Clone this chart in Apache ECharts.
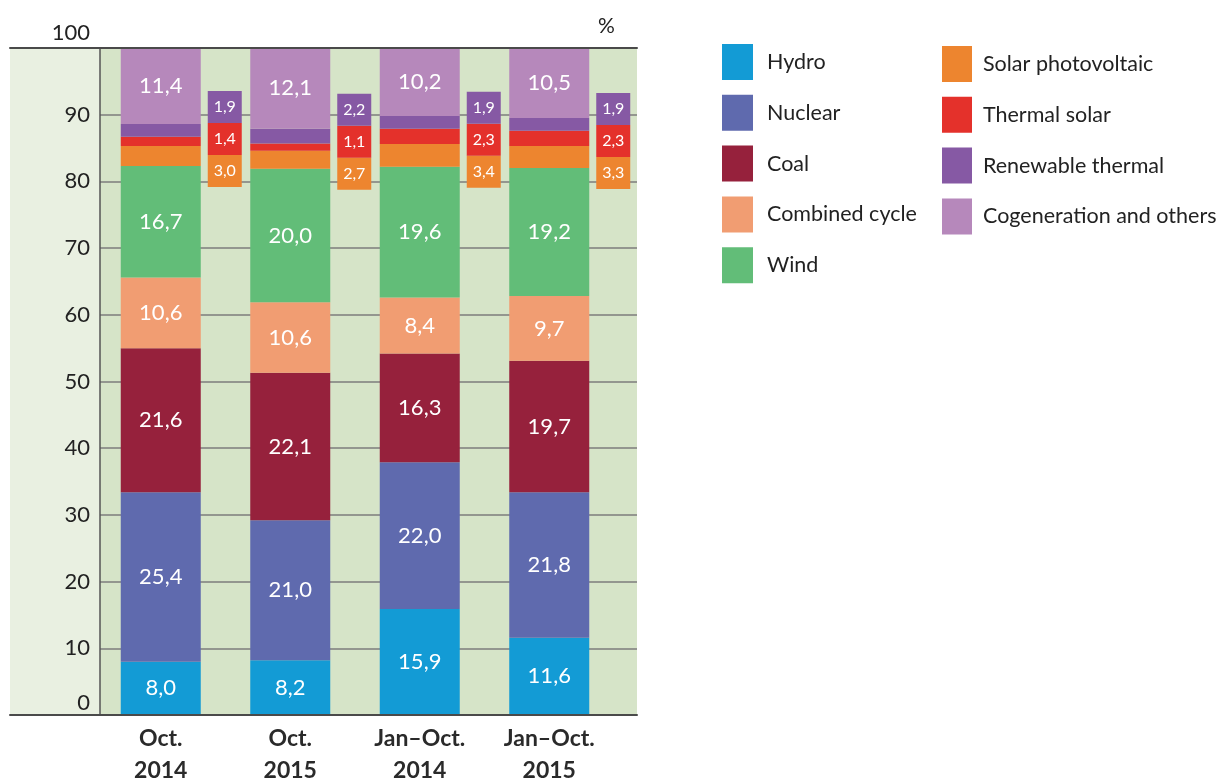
<!DOCTYPE html>
<html>
<head>
<meta charset="utf-8">
<script src="https://cdn.jsdelivr.net/npm/echarts@6/dist/echarts.min.js"></script>
<style>
  html, body { margin: 0; padding: 0; background: #ffffff; }
  #chart { width: 1228px; height: 780px; }
</style>
</head>
<body>
<div id="chart"></div>
<script>
// Electricity generation mix, share of total (%)
const categories = ['Oct.\n2014', 'Oct.\n2015', 'Jan\u2013Oct.\n2014', 'Jan\u2013Oct.\n2015'];

const hydro            = [8.0, 8.2, 15.9, 11.6];
const nuclear          = [25.4, 21.0, 22.0, 21.8];
const coal             = [21.6, 22.1, 16.3, 19.7];
const combinedCycle    = [10.6, 10.6, 8.4, 9.7];
const wind             = [16.7, 20.0, 19.6, 19.2];
const solarPV          = [3.0, 2.7, 3.4, 3.3];
const thermalSolar     = [1.4, 1.1, 2.3, 2.3];
const renewableThermal = [1.9, 2.2, 1.9, 1.9];
const cogeneration     = [11.4, 12.1, 10.2, 10.5];

const seriesNames = ['Hydro', 'Nuclear', 'Coal', 'Combined cycle', 'Wind',
  'Solar photovoltaic', 'Thermal solar', 'Renewable thermal', 'Cogeneration and others'];
const seriesData = [hydro, nuclear, coal, combinedCycle, wind,
  solarPV, thermalSolar, renewableThermal, cogeneration];
const seriesColors = ['#139bd5', '#5f6aae', '#96213c', '#f19d72', '#62bd78',
  '#ed852f', '#e4312b', '#8659a4', '#b688bb'];

const FONT = 'Lato, "Noto Sans", sans-serif';
const fmt = v => v.toFixed(1).replace('.', ',');

// the three small renewables are shown in a callout box stack beside each bar
const CALLOUT = { 'Solar photovoltaic': 0, 'Thermal solar': 1, 'Renewable thermal': 2 };
const CALLOUT_W = 34, CALLOUT_H = 32, CALLOUT_GAP = 7, CALLOUT_DROP = 21;
// top of the wind segment: the callouts hang from here
const baseTop = hydro.map((_, i) => hydro[i] + nuclear[i] + coal[i] + combinedCycle[i] + wind[i]);

const chart = echarts.init(document.getElementById('chart'), null, { renderer: 'canvas' });

function calloutLayout(slot) {
  return function (p) {
    const r = p.rect;
    const right = Math.max(r.x, r.x + r.width);
    const y0 = chart.convertToPixel({ yAxisIndex: 2 }, baseTop[p.dataIndex]);
    return {
      x: right + CALLOUT_GAP + CALLOUT_W / 2,
      y: y0 + CALLOUT_DROP - CALLOUT_H * (slot + 0.5),
      align: 'center',
      verticalAlign: 'middle'
    };
  };
}

const series = seriesNames.map((name, k) => {
  const isCallout = name in CALLOUT;
  const s = {
    name: name,
    type: 'bar',
    stack: 'total',
    xAxisIndex: 3,
    yAxisIndex: 2,
    barWidth: 80,
    data: seriesData[k],
    itemStyle: { color: seriesColors[k] },
    emphasis: { disabled: true },
    label: {
      show: true,
      position: 'inside',
      formatter: p => fmt(p.value),
      color: '#ffffff',
      fontFamily: FONT,
      fontSize: 22
    }
  };
  if (isCallout) {
    s.label = {
      show: true,
      position: 'inside',
      formatter: p => fmt(p.value),
      color: '#ffffff',
      fontFamily: FONT,
      fontSize: 16,
      backgroundColor: seriesColors[k],
      width: CALLOUT_W,
      lineHeight: CALLOUT_H,
      align: 'center'
    };
    s.labelLayout = calloutLayout(CALLOUT[name]);
  }
  return s;
});

const frameLine = { show: true, onZero: false, lineStyle: { color: '#4a4a4a', width: 2 } };

const option = {
  animation: false,
  title: {
    text: '%',
    left: 593,
    top: 11,
    textStyle: { fontFamily: FONT, fontSize: 21, fontWeight: 'normal', color: '#222222' }
  },
  legend: [
    {
      data: seriesNames.slice(0, 5),
      orient: 'vertical',
      left: 717,
      top: 39,
      itemWidth: 31,
      itemHeight: 36,
      itemGap: 14.8,
      icon: 'rect',
      selectedMode: false,
      textStyle: { fontFamily: FONT, fontSize: 21.5, color: '#222222', padding: [0, 0, 0, 9] }
    },
    {
      data: seriesNames.slice(5),
      orient: 'vertical',
      left: 937,
      top: 41,
      itemWidth: 30,
      itemHeight: 36,
      itemGap: 14.8,
      icon: 'rect',
      selectedMode: false,
      textStyle: { fontFamily: FONT, fontSize: 21.5, color: '#222222', padding: [0, 0, 0, 6] }
    }
  ],
  grid: [
    { left: 10, right: 591, top: 48, bottom: 65, show: true, backgroundColor: '#e9f0e1', borderWidth: 0, outerBoundsMode: 'none', containLabel: false },
    { left: 100, right: 591, top: 48, bottom: 65, show: true, backgroundColor: '#d6e4c8', borderWidth: 0, outerBoundsMode: 'none', containLabel: false },
    { left: 96, right: 614, top: 48, bottom: 65, outerBoundsMode: 'none', containLabel: false }
  ],
  xAxis: [
    { gridIndex: 0, type: 'value', min: 0, max: 1, position: 'bottom', axisLine: frameLine,
      axisTick: { show: false }, axisLabel: { show: false }, splitLine: { show: false }, z: 6 },
    { gridIndex: 0, type: 'value', min: 0, max: 1, position: 'top', axisLine: frameLine,
      axisTick: { show: false }, axisLabel: { show: false }, splitLine: { show: false }, z: 6 },
    { gridIndex: 1, type: 'value', show: false },
    { gridIndex: 2, type: 'category', data: categories,
      axisLine: { show: false }, axisTick: { show: false },
      axisLabel: { fontFamily: FONT, fontSize: 23, fontWeight: 'bold', color: '#2a2a2a', lineHeight: 32, margin: 8 } }
  ],
  yAxis: [
    { gridIndex: 0, type: 'value', show: false, min: 0, max: 1 },
    { gridIndex: 1, type: 'value', min: 0, max: 100, interval: 10,
      axisLine: { show: true, lineStyle: { color: '#555555', width: 1.5 } },
      axisTick: { show: false },
      splitLine: { show: true, lineStyle: { color: '#7d7d7d', width: 1.5 } },
      axisLabel: {
        margin: 10,
        fontFamily: FONT,
        fontSize: 22,
        color: '#222222',
        formatter: v => v === 100 ? '{hi|100}' : (v === 0 ? '{lo|0}' : String(v)),
        rich: {
          hi: { fontFamily: FONT, fontSize: 22, color: '#222222', padding: [0, 0, 30, 0] },
          lo: { fontFamily: FONT, fontSize: 22, color: '#222222', padding: [0, 0, 24, 0] }
        }
      } },
    { gridIndex: 2, type: 'value', min: 0, max: 100, show: false }
  ],
  series: series
};

chart.setOption(option);
</script>
</body>
</html>
